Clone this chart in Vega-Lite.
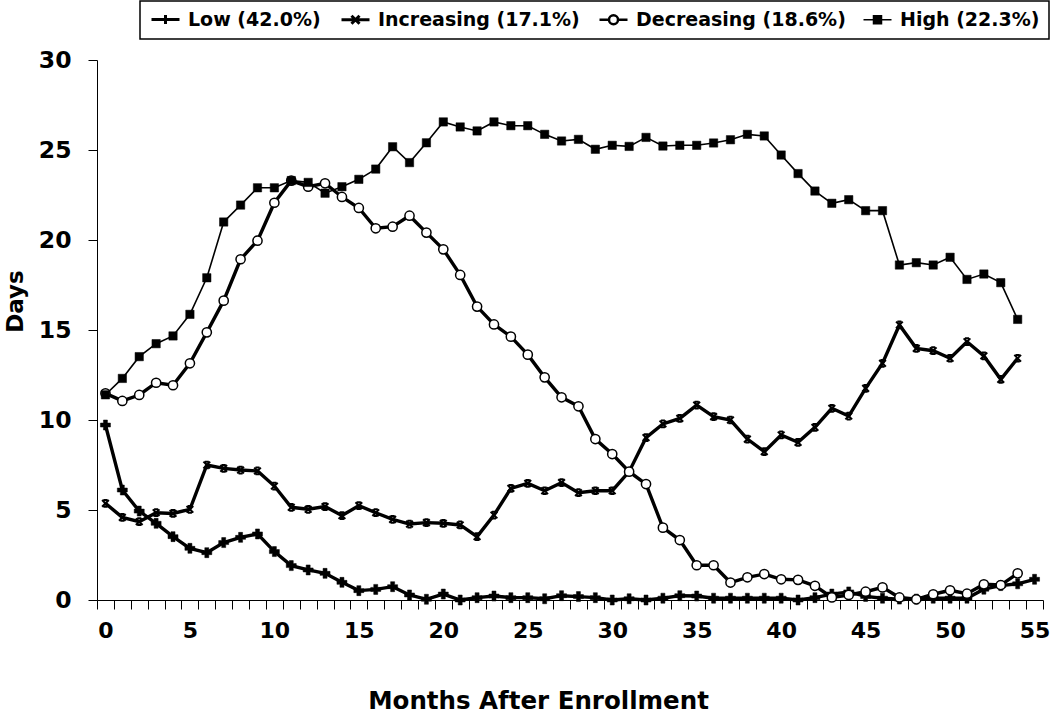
{
  "$schema": "https://vega.github.io/schema/vega-lite/v6.json",
  "width": 946,
  "height": 540,
  "autosize": "none",
  "padding": {"left": 97, "top": 60, "right": 7, "bottom": 114},
  "background": "white",
  "config": {"view": {"stroke": null}, "font": "DejaVu Sans"},
  "data": {"values": [
    {"m":0,"Low":9.72,"Increasing":5.37,"Decreasing":11.48,"High":11.4},
    {"m":1,"Low":6.11,"Increasing":4.59,"Decreasing":11.06,"High":12.31},
    {"m":2,"Low":4.94,"Increasing":4.35,"Decreasing":11.39,"High":13.52},
    {"m":3,"Low":4.26,"Increasing":4.85,"Decreasing":12.07,"High":14.24},
    {"m":4,"Low":3.52,"Increasing":4.81,"Decreasing":11.93,"High":14.67},
    {"m":5,"Low":2.87,"Increasing":5.04,"Decreasing":13.15,"High":15.87},
    {"m":6,"Low":2.63,"Increasing":7.5,"Decreasing":14.87,"High":17.9},
    {"m":7,"Low":3.19,"Increasing":7.31,"Decreasing":16.63,"High":21.0},
    {"m":8,"Low":3.48,"Increasing":7.22,"Decreasing":18.93,"High":21.94},
    {"m":9,"Low":3.67,"Increasing":7.17,"Decreasing":19.96,"High":22.9},
    {"m":10,"Low":2.69,"Increasing":6.33,"Decreasing":22.07,"High":22.9},
    {"m":11,"Low":1.91,"Increasing":5.15,"Decreasing":23.3,"High":23.3},
    {"m":12,"Low":1.67,"Increasing":5.04,"Decreasing":22.96,"High":23.2},
    {"m":13,"Low":1.48,"Increasing":5.19,"Decreasing":23.15,"High":22.6},
    {"m":14,"Low":0.98,"Increasing":4.69,"Decreasing":22.39,"High":22.96},
    {"m":15,"Low":0.52,"Increasing":5.24,"Decreasing":21.78,"High":23.37},
    {"m":16,"Low":0.59,"Increasing":4.85,"Decreasing":20.65,"High":23.94},
    {"m":17,"Low":0.74,"Increasing":4.48,"Decreasing":20.74,"High":25.18},
    {"m":18,"Low":0.28,"Increasing":4.22,"Decreasing":21.35,"High":24.3},
    {"m":19,"Low":0.04,"Increasing":4.3,"Decreasing":20.41,"High":25.4},
    {"m":20,"Low":0.33,"Increasing":4.26,"Decreasing":19.48,"High":26.56},
    {"m":21,"Low":0.0,"Increasing":4.17,"Decreasing":18.06,"High":26.28},
    {"m":22,"Low":0.13,"Increasing":3.52,"Decreasing":16.3,"High":26.06},
    {"m":23,"Low":0.22,"Increasing":4.72,"Decreasing":15.31,"High":26.56},
    {"m":24,"Low":0.13,"Increasing":6.2,"Decreasing":14.63,"High":26.35},
    {"m":25,"Low":0.13,"Increasing":6.48,"Decreasing":13.63,"High":26.35},
    {"m":26,"Low":0.07,"Increasing":6.07,"Decreasing":12.37,"High":25.87},
    {"m":27,"Low":0.24,"Increasing":6.52,"Decreasing":11.26,"High":25.5},
    {"m":28,"Low":0.19,"Increasing":5.96,"Decreasing":10.76,"High":25.59},
    {"m":29,"Low":0.13,"Increasing":6.07,"Decreasing":8.94,"High":25.04},
    {"m":30,"Low":0.0,"Increasing":6.07,"Decreasing":8.11,"High":25.26},
    {"m":31,"Low":0.07,"Increasing":7.13,"Decreasing":7.13,"High":25.2},
    {"m":32,"Low":0.0,"Increasing":9.02,"Decreasing":6.44,"High":25.7},
    {"m":33,"Low":0.1,"Increasing":9.78,"Decreasing":4.02,"High":25.22},
    {"m":34,"Low":0.24,"Increasing":10.09,"Decreasing":3.33,"High":25.26},
    {"m":35,"Low":0.22,"Increasing":10.83,"Decreasing":1.93,"High":25.26},
    {"m":36,"Low":0.1,"Increasing":10.19,"Decreasing":1.93,"High":25.39},
    {"m":37,"Low":0.1,"Increasing":10.0,"Decreasing":0.97,"High":25.57},
    {"m":38,"Low":0.1,"Increasing":8.94,"Decreasing":1.26,"High":25.87},
    {"m":39,"Low":0.1,"Increasing":8.24,"Decreasing":1.44,"High":25.78},
    {"m":40,"Low":0.1,"Increasing":9.17,"Decreasing":1.15,"High":24.72},
    {"m":41,"Low":0.0,"Increasing":8.76,"Decreasing":1.12,"High":23.69},
    {"m":42,"Low":0.13,"Increasing":9.59,"Decreasing":0.79,"High":22.72},
    {"m":43,"Low":0.33,"Increasing":10.65,"Decreasing":0.14,"High":22.04},
    {"m":44,"Low":0.45,"Increasing":10.22,"Decreasing":0.28,"High":22.24},
    {"m":45,"Low":0.2,"Increasing":11.76,"Decreasing":0.46,"High":21.63},
    {"m":46,"Low":0.1,"Increasing":13.15,"Decreasing":0.7,"High":21.63},
    {"m":47,"Low":0.05,"Increasing":15.28,"Decreasing":0.14,"High":18.61},
    {"m":48,"Low":0.05,"Increasing":13.98,"Decreasing":0.04,"High":18.74},
    {"m":49,"Low":0.1,"Increasing":13.85,"Decreasing":0.32,"High":18.61},
    {"m":50,"Low":0.1,"Increasing":13.43,"Decreasing":0.54,"High":19.04},
    {"m":51,"Low":0.1,"Increasing":14.35,"Decreasing":0.35,"High":17.81},
    {"m":52,"Low":0.6,"Increasing":13.56,"Decreasing":0.87,"High":18.11},
    {"m":53,"Low":0.8,"Increasing":12.26,"Decreasing":0.83,"High":17.63},
    {"m":54,"Low":0.9,"Increasing":13.43,"Decreasing":1.48,"High":15.59},
    {"m":55,"Low":1.15}
  ]},
  "transform": [
    {"fold": ["Low", "Increasing", "Decreasing", "High"], "as": ["series", "days"]},
    {"filter": "isValid(datum.days)"}
  ],
  "encoding": {
    "x": {
      "field": "m", "type": "ordinal", "bandPosition": 0.5,
      "scale": {"type": "band", "paddingInner": 0, "paddingOuter": 0},
      "axis": {
        "title": "Months After Enrollment",
        "labelExpr": "datum.value % 5 == 0 ? datum.label : ''",
        "labelAngle": 0, "labelOverlap": false, "labelFlush": false,
        "tickBand": "extent", "tickSize": 9, "tickColor": "black", "tickWidth": 1,
        "domainColor": "black", "domainWidth": 1,
        "labelFont": "DejaVu Sans", "labelFontSize": 22, "labelFontWeight": "bold", "labelColor": "black", "labelPadding": 11,
        "titleFont": "DejaVu Sans", "titleFontSize": 24.5, "titleFontWeight": "bold", "titleColor": "black",
        "titleX": 441, "titleY": 108, "titleAlign": "center", "titleBaseline": "alphabetic",
        "grid": false
      }
    },
    "y": {
      "field": "days", "type": "quantitative",
      "scale": {"domain": [0, 30], "nice": false, "zero": true},
      "axis": {
        "title": "Days", "values": [0, 5, 10, 15, 20, 25, 30],
        "tickSize": 9, "tickColor": "black", "domainColor": "black",
        "labelFont": "DejaVu Sans", "labelFontSize": 23.5, "labelFontWeight": "bold", "labelColor": "black", "labelPadding": 17,
        "titleFont": "DejaVu Sans", "titleFontSize": 23, "titleFontWeight": "bold", "titleColor": "black",
        "titleAngle": 270, "titleX": -75, "titleY": 241, "titleAlign": "center", "titleBaseline": "alphabetic",
        "grid": false
      }
    }
  },
  "layer": [
    {
      "mark": {"type": "line"},
      "encoding": {
        "color": {
          "field": "series", "type": "nominal",
          "scale": {"domain": ["Low", "Increasing", "Decreasing", "High"], "range": ["black", "black", "black", "black"]},
          "legend": {
            "orient": "none", "legendX": 43, "legendY": -59, "direction": "horizontal", "title": null,
            "labelExpr": "datum.value == 'Low' ? 'Low (42.0%)' : datum.value == 'Increasing' ? 'Increasing (17.1%)' : datum.value == 'Decreasing' ? 'Decreasing (18.6%)' : 'High (22.3%)'",
            "strokeColor": "black", "fillColor": "white", "padding": 9,
            "labelFont": "DejaVu Sans", "labelFontSize": 19, "labelFontWeight": "bold", "labelColor": "black", "labelLimit": 400,
            "labelOffset": 13, "columnPadding": 14, "symbolSize": 100, "symbolOffset": 7,
            "encode": {
              "legend": {"update": {"strokeWidth": {"value": 1.5}}},
              "symbols": {"update": {
                "shape": {"signal": "datum.value == 'Low' ? 'M-2.8,0H2.8M0,-0.9V0.9' : datum.value == 'Increasing' ? 'M-2.8,0H2.8M-0.8,-0.8L0.8,0.8M-0.8,0.8L0.8,-0.8' : datum.value == 'Decreasing' ? 'M-2.8,0H-0.9M0.9,0H2.8M0.9,0A0.9,0.9,0,1,1,-0.9,0A0.9,0.9,0,1,1,0.9,0Z' : 'M-2.8,0H2.8M-0.8,-0.8H0.8V0.8H-0.8Z'"},
                "strokeWidth": {"signal": "datum.value == 'High' ? 1.5 : datum.value == 'Decreasing' ? 2.5 : 3"},
                "fill": {"signal": "datum.value == 'Decreasing' ? 'white' : 'black'"},
                "stroke": {"value": "black"},
                "opacity": {"value": 1}
              }}
            }
          }
        },
        "strokeWidth": {"condition": {"test": "datum.series == 'High'", "value": 1.6}, "value": 3.4}
      }
    },
    {
      "transform": [{"filter": "datum.series == 'Low'"}],
      "mark": {"type": "point", "shape": "cross", "filled": true, "fill": "black", "stroke": "black", "strokeWidth": 0.5, "size": 100, "opacity": 1},
      "encoding": {}
    },
    {
      "transform": [{"filter": "datum.series == 'Increasing'"}],
      "mark": {"type": "point", "shape": "M-1,-1L1,1M1,-1L-1,1M-0.6,-1H0.6M-0.6,1H0.6", "filled": false, "fill": "black", "stroke": "black", "strokeWidth": 2, "size": 45, "opacity": 1},
      "encoding": {}
    },
    {
      "transform": [{"filter": "datum.series == 'Decreasing'"}],
      "mark": {"type": "point", "shape": "circle", "filled": true, "fill": "white", "stroke": "black", "strokeWidth": 1.5, "size": 85, "opacity": 1},
      "encoding": {}
    },
    {
      "transform": [{"filter": "datum.series == 'High'"}],
      "mark": {"type": "point", "shape": "square", "filled": true, "fill": "black", "stroke": "black", "strokeWidth": 0.5, "size": 70, "opacity": 1},
      "encoding": {}
    }
  ]
}
